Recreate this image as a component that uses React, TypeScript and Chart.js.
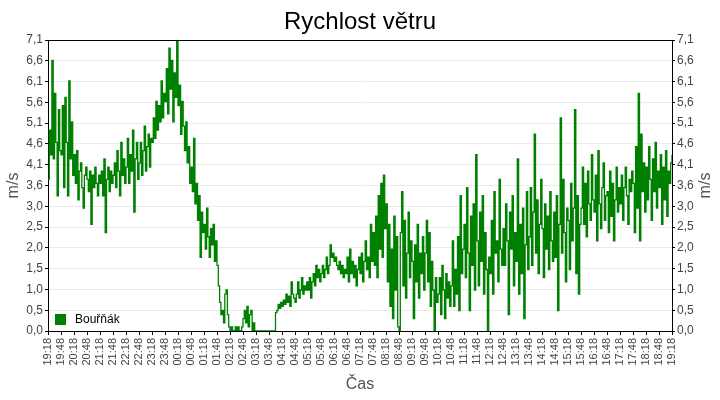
import { useEffect, useRef } from 'react';
import { Chart, registerables } from 'chart.js';

Chart.register(...registerables);

const chartTitle = 'Rychlost větru';
const seriesName = 'Bouřňák';
const xTitle = 'Čas';
const yTitle = 'm/s';

// popisky osy X (po 30 minutách)
const timeLabels = [
  '19:18', '19:48', '20:18', '20:48', '21:18', '21:48', '22:18', '22:48', '23:18', '23:48',
  '00:18', '00:48', '01:18', '01:48', '02:18', '02:48', '03:18', '03:48', '04:18', '04:48',
  '05:18', '05:48', '06:18', '06:48', '07:18', '07:48', '08:18', '08:48', '09:18', '09:48',
  '10:18', '10:48', '11:18', '11:48', '12:18', '12:48', '13:18', '13:48', '14:18', '14:48',
  '15:18', '15:48', '16:18', '16:48', '17:18', '17:48', '18:18', '18:48', '19:18',
];

// popisky osy Y
const yTickLabels = ['0,0', '0,5', '1,0', '1,5', '2,0', '2,5', '3,0', '3,6', '4,1', '4,6', '5,1', '5,6', '6,1', '6,6', '7,1'];
const yMax = 7.1;

// jeden vzorek každé 3 minuty
const stepMinutes = 3;
const windSpeed = [
  // 19:18 - 21:18
  3.7, 4.9, 4.3, 6.6, 4.2, 5.8, 4.6, 3.3, 5.4, 4.4,
  4.3, 5.5, 3.5, 5.7, 4.6, 3.3, 6.1, 4.2, 5.1, 3.8,
  4.3, 3.6, 4.4, 3.2, 3.9, 4.1, 3.5, 3.0, 3.8, 4.0,
  3.7, 3.4, 3.9, 2.6, 3.8, 3.5, 4.0, 3.6, 3.3, 3.8,
  // 21:18 - 23:18
  3.6, 3.9, 3.3, 4.2, 2.4, 3.7, 4.0, 3.4, 3.9, 3.6,
  3.8, 4.1, 3.5, 4.4, 3.9, 3.3, 4.6, 3.8, 4.2, 3.6,
  4.0, 4.7, 3.6, 4.3, 3.9, 4.9, 2.9, 4.2, 4.6, 3.7,
  4.1, 4.6, 3.8, 4.4, 5.0, 3.9, 4.5, 4.8, 4.0, 4.7,
  // 23:18 - 01:18
  4.6, 5.2, 4.7, 5.6, 4.9, 5.5, 5.1, 6.1, 5.2, 5.8,
  5.6, 6.4, 5.3, 6.9, 5.9, 6.6, 5.1, 6.3, 5.7, 7.1,
  5.5, 6.0, 4.8, 5.6, 5.0, 4.4, 5.1, 4.1, 4.5, 3.6,
  4.0, 3.4, 4.7, 3.1, 3.6, 2.7, 3.3, 1.8, 2.9, 2.4,
  // 01:18 - 03:18
  2.6, 2.0, 3.0, 2.3, 1.8, 2.5, 2.1, 2.6, 1.7, 2.2,
  1.6, 1.1, 0.7, 0.4, 0.5, 0.2, 0.9, 1.0, 0.4, 0.1,
  0.0, 0.1, 0.0, 0.0, 0.1, 0.0, 0.1, 0.0, 0.0, 0.1,
  0.3, 0.5, 0.2, 0.6, 0.1, 0.4, 0.5, 0.0, 0.2, 0.0,
  // 03:18 - 05:18
  0.0, 0.0, 0.0, 0.0, 0.0, 0.0, 0.0, 0.0, 0.0, 0.0,
  0.0, 0.0, 0.0, 0.0, 0.0, 0.45, 0.5, 0.65, 0.55, 0.7,
  0.6, 0.75, 0.65, 0.9, 0.7, 0.85, 0.6, 1.2, 0.9, 0.8,
  0.7, 0.9, 1.2, 0.8, 1.0, 1.3, 0.9, 1.1, 1.0, 1.2,
  // 05:18 - 07:18
  1.0, 1.3, 0.8, 1.2, 1.4, 1.1, 1.6, 1.3, 1.5, 1.2,
  1.4, 1.6, 1.3, 1.5, 1.8, 1.4, 1.6, 2.1, 1.8, 1.9,
  1.7, 1.8, 1.6, 1.5, 1.7, 1.4, 1.6, 1.3, 1.5, 1.4,
  1.8, 1.2, 2.0, 1.4, 1.7, 1.3, 1.6, 1.1, 1.5, 1.8,
  // 07:18 - 09:18
  1.4, 1.9, 1.2, 1.7, 2.2, 1.5, 1.8, 1.3, 2.6, 1.7,
  2.4, 1.6, 2.8, 1.3, 3.3, 2.0, 3.6, 1.8, 3.8, 2.5,
  3.1, 1.2, 2.6, 0.6, 2.0, 0.3, 2.8, 1.0, 2.3, 0.1,
  0.0, 2.4, 3.4, 1.1, 2.7, 0.8, 1.9, 2.9, 1.3, 2.2,
  // 09:18 - 11:18
  1.7, 0.3, 2.1, 1.2, 2.6, 0.8, 1.9, 1.4, 2.3, 1.0,
  1.9, 2.7, 1.2, 2.4, 0.6, 1.7, 1.0, 0.0, 1.3, 0.7,
  0.9, 1.3, 0.4, 1.6, 1.0, 0.3, 1.4, 0.8, 1.2, 0.6,
  1.1, 2.2, 0.6, 1.5, 0.9, 2.3, 0.5, 3.3, 1.4, 2.0,
  // 11:18 - 13:18
  2.6, 1.3, 3.5, 1.9, 0.5, 2.8, 1.6, 3.1, 1.0, 4.3,
  2.2, 1.1, 2.9, 1.7, 3.3, 0.9, 2.4, 1.5, 0.0, 1.8,
  1.4, 2.7, 0.9, 3.4, 1.9, 2.2, 1.2, 3.7, 2.0, 1.6,
  2.5, 1.6, 3.1, 2.2, 0.4, 2.9, 2.0, 3.3, 1.1, 2.4,
  // 13:18 - 15:18
  1.7, 4.2, 0.9, 2.6, 1.4, 3.0, 0.3, 2.1, 3.4, 1.5,
  2.3, 3.5, 1.6, 2.9, 4.8, 1.9, 3.2, 1.4, 2.6, 3.7,
  2.5, 1.3, 3.1, 2.0, 2.8, 1.5, 3.4, 2.2, 1.7, 2.9,
  1.8, 3.3, 0.5, 2.6, 5.2, 1.9, 3.7, 2.4, 1.2, 3.0,
  // 15:18 - 17:18
  2.7, 1.5, 3.6, 2.2, 3.0, 5.4, 1.4, 3.3, 0.9, 2.6,
  3.0, 4.0, 2.6, 3.6, 2.3, 3.9, 3.1, 2.7, 4.3, 3.2,
  2.9, 3.8, 2.2, 4.4, 3.1, 2.5, 3.5, 4.1, 2.7, 3.3,
  3.4, 2.4, 3.9, 2.8, 3.6, 2.2, 3.2, 4.0, 2.9, 3.5,
  // 17:18 - 19:18
  3.1, 3.8, 2.7, 3.5, 4.0, 3.3, 2.6, 3.7, 3.4, 3.9,
  3.6, 2.4, 4.5, 3.0, 5.8, 2.2, 4.8, 3.4, 4.1, 2.9,
  4.0, 3.2, 4.5, 3.7, 2.7, 4.2, 3.4, 4.6, 3.0, 3.9,
  3.5, 4.3, 2.6, 4.0, 3.2, 4.4, 2.8, 3.9, 3.6, 4.1,
  4.3,
];

const lineColor = '#008000';
const fontFamily = '"Liberation Sans", Arial, sans-serif';

// horní okraj rámečku, pravý popisek osy a legenda uvnitř grafu
const framePlugin = {
  id: 'frameAndLegend',
  afterDatasetsDraw(chart: Chart) {
    const { ctx, chartArea } = chart;
    ctx.save();
    ctx.strokeStyle = '#000';
    ctx.lineWidth = 1;
    ctx.beginPath();
    ctx.moveTo(chartArea.left, chartArea.top + 0.5);
    ctx.lineTo(chartArea.right, chartArea.top + 0.5);
    ctx.stroke();

    const label = chart.data.datasets[0].label || '';
    ctx.fillStyle = lineColor;
    ctx.fillRect(chartArea.left + 7, chartArea.bottom - 17, 11, 11);
    ctx.fillStyle = '#000';
    ctx.font = `12px ${fontFamily}`;
    ctx.textBaseline = 'middle';
    ctx.textAlign = 'left';
    ctx.fillText(label, chartArea.left + 27, chartArea.bottom - 11.5);

    // název pravé osy, čtený zdola nahoru jako vlevo
    ctx.translate(chart.width - 14, (chartArea.top + chartArea.bottom) / 2);
    ctx.rotate(-Math.PI / 2);
    ctx.fillStyle = '#555';
    ctx.font = `16px ${fontFamily}`;
    ctx.textAlign = 'center';
    ctx.fillText(yTitle, 0, 0);
    ctx.restore();
  },
};

const yAxis = (position: 'left' | 'right', main: boolean) => ({
  type: 'linear' as const,
  position,
  min: 0,
  max: yMax,
  afterBuildTicks: (scale: any) => {
    scale.ticks = yTickLabels.map((_, i) => ({ value: (i * yMax) / (yTickLabels.length - 1) }));
  },
  afterFit: (scale: any) => {
    scale.width = 48;
  },
  ticks: {
    autoSkip: false,
    color: '#444',
    padding: 2,
    font: { family: fontFamily, size: 12 },
    callback: (_v: any, i: number) => yTickLabels[i],
  },
  grid: {
    drawOnChartArea: main,
    color: '#ebebeb',
    tickColor: '#000',
    tickLength: 3,
  },
  border: { color: '#000' },
  title: {
    display: main,
    text: yTitle,
    color: '#555',
    font: { family: fontFamily, size: 16 },
    padding: { top: 4, bottom: 0 },
  },
});

export default function App() {
  const canvasRef = useRef<HTMLCanvasElement>(null);

  useEffect(() => {
    if (!canvasRef.current) return;
    const points = windSpeed.map((v, i) => ({ x: i * stepMinutes, y: v }));

    const chart = new Chart(canvasRef.current, {
      type: 'line',
      data: {
        datasets: [
          {
            label: seriesName,
            data: points,
            borderColor: lineColor,
            backgroundColor: lineColor,
            borderWidth: 1.3,
            pointRadius: 0,
            stepped: true,
            yAxisID: 'y',
          },
        ],
      },
      options: {
        animation: false,
        responsive: true,
        maintainAspectRatio: false,
        layout: { padding: 0 },
        plugins: {
          legend: { display: false },
          tooltip: { enabled: false },
          title: {
            display: true,
            text: chartTitle,
            color: '#000',
            font: { family: fontFamily, size: 24, weight: 'normal' },
            padding: { top: 8, bottom: 3.2 },
          },
        },
        scales: {
          x: {
            type: 'linear',
            min: 0,
            max: (timeLabels.length - 1) * 30,
            afterBuildTicks: (scale: any) => {
              scale.ticks = timeLabels.map((_, i) => ({ value: i * 30 }));
            },
            afterFit: (scale: any) => {
              scale.height = 69;
            },
            ticks: {
              autoSkip: false,
              minRotation: 90,
              maxRotation: 90,
              color: '#444',
              padding: 3,
              font: { family: fontFamily, size: 11 },
              callback: (_v: any, i: number) => timeLabels[i],
            },
            grid: { drawOnChartArea: false, color: '#000', tickLength: 4 },
            border: { color: '#000' },
            title: {
              display: true,
              text: xTitle,
              color: '#555',
              font: { family: fontFamily, size: 16 },
              padding: { top: 0, bottom: 6 },
            },
          },
          y: yAxis('left', true),
          y2: yAxis('right', false),
        },
      },
      plugins: [framePlugin],
    });

    return () => chart.destroy();
  }, []);

  return (
    <div style={{ position: 'absolute', left: 0, top: 0, width: 720, height: 400, background: '#fff' }}>
      <canvas ref={canvasRef} />
    </div>
  );
}
